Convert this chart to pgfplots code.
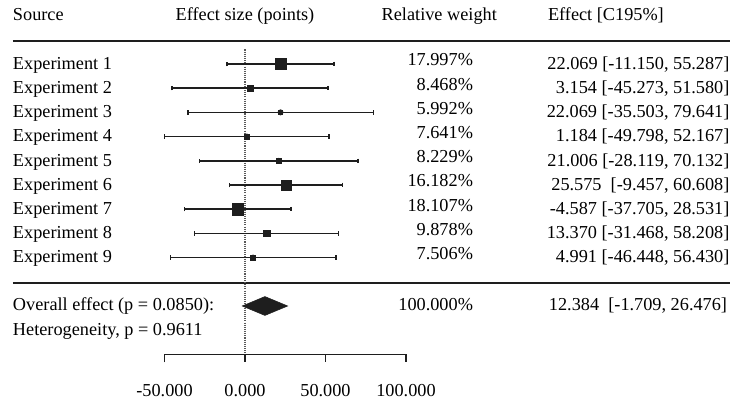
\documentclass[border=0pt]{standalone}
\usepackage{pgfplots}
\pgfplotsset{compat=1.18}
\usepackage{pgfplotstable}
\usepackage{fontspec}
\setmainfont{Liberation Serif}
\definecolor{ink}{HTML}{1E1E1E}
\pgfplotstableread{
row est lo hi w
1 22.069 -11.150 55.287 17.997
2 3.154 -45.273 51.580 8.468
3 22.069 -35.503 79.641 5.992
4 1.184 -49.798 52.167 7.641
5 21.006 -28.119 70.132 8.229
6 25.575 -9.457 60.608 16.182
7 -4.587 -37.705 28.531 18.107
8 13.370 -31.468 58.208 9.878
9 4.991 -46.448 56.430 7.506
}\studies
\begin{document}
\fontsize{13.7}{16}\selectfont
\begin{tikzpicture}[every node/.style={inner sep=0pt, outer sep=0pt}]
\begin{axis}[
  name=ax,
  scale only axis, width=547.5pt, height=301.5pt,
  xmin=-152.17, xmax=301.24,
  ymin=-1.645, ymax=14.967, y dir=reverse,
  hide axis, clip=false,
]
% rules
\draw[line width=1.5pt, ink] (axis cs:-144.1,0.05) -- (axis cs:301.24,0.05);
\draw[line width=1.5pt, ink] (axis cs:-144.1,10.05) -- (axis cs:301.24,10.05);
% zero reference line
\addplot[black!65, line width=0.8pt, dash pattern=on 0.8pt off 0.8pt] coordinates {(0,0.4) (0,13)};
% error bars
\addplot[only marks, mark=none, ink,
  error bars/.cd, x dir=both, x explicit,
  error bar style={line width=1.3pt},
  error mark=|,
  error mark options={mark size=1.7pt, line width=1pt}]
  table[x=est, y=row,
    x error minus expr=\thisrow{est}-\thisrow{lo},
    x error plus expr=\thisrow{hi}-\thisrow{est}] {\studies};
% squares sized by weight
\addplot[only marks, mark=square*, scatter, point meta=\thisrow{w},
  scatter/use mapped color={draw=ink, fill=ink},
  visualization depends on={\thisrow{w} \as \wt},
  scatter/@pre marker code/.append style={/tikz/mark size=0.2175*\wt+0.34}]
  table[x=est, y=row] {\studies};
% overall diamond
\addplot[fill=ink, draw=ink] coordinates {(-1.709,11) (12.384,10.61) (26.476,11) (12.384,11.39)} -- cycle;
% scale axis
\addplot[ink, line width=1.2pt] coordinates {(-50,13.33) (-50,13) (100,13) (100,13.33)};
\addplot[ink, line width=1.2pt] coordinates {(0,13) (0,13.33)};
\addplot[ink, line width=1.2pt] coordinates {(50,13) (50,13.33)};
\node[anchor=base] at (axis cs:-50,14.76) {-50.000};
\node[anchor=base] at (axis cs:0,14.76) {0.000};
\node[anchor=base] at (axis cs:50,14.76) {50.000};
\node[anchor=base] at (axis cs:100,14.76) {100.000};
% header
\node[anchor=base west] at (axis cs:-144.1,-0.81) {Source};
\node[anchor=base] at (axis cs:0,-0.81) {Effect size (points)};
\node[anchor=base west] at (axis cs:84.9,-0.81) {Relative weight};
\node[anchor=base west] at (axis cs:188.2,-0.81) {Effect [C195\%]};
% study labels
\node[anchor=base west] at (axis cs:-144.1,1.22) {Experiment 1};
\node[anchor=base west] at (axis cs:-144.1,2.22) {Experiment 2};
\node[anchor=base west] at (axis cs:-144.1,3.22) {Experiment 3};
\node[anchor=base west] at (axis cs:-144.1,4.22) {Experiment 4};
\node[anchor=base west] at (axis cs:-144.1,5.22) {Experiment 5};
\node[anchor=base west] at (axis cs:-144.1,6.22) {Experiment 6};
\node[anchor=base west] at (axis cs:-144.1,7.22) {Experiment 7};
\node[anchor=base west] at (axis cs:-144.1,8.22) {Experiment 8};
\node[anchor=base west] at (axis cs:-144.1,9.22) {Experiment 9};
% weights
\node[anchor=base east] at (axis cs:141.6,1.08) {17.997\%};
\node[anchor=base east] at (axis cs:141.6,2.08) {8.468\%};
\node[anchor=base east] at (axis cs:141.6,3.08) {5.992\%};
\node[anchor=base east] at (axis cs:141.6,4.08) {7.641\%};
\node[anchor=base east] at (axis cs:141.6,5.08) {8.229\%};
\node[anchor=base east] at (axis cs:141.6,6.08) {16.182\%};
\node[anchor=base east] at (axis cs:141.6,7.08) {18.107\%};
\node[anchor=base east] at (axis cs:141.6,8.08) {9.878\%};
\node[anchor=base east] at (axis cs:141.6,9.08) {7.506\%};
% effects
\node[anchor=base east] at (axis cs:300.9,1.22) {22.069 [-11.150, 55.287]};
\node[anchor=base east] at (axis cs:300.9,2.22) {3.154 [-45.273, 51.580]};
\node[anchor=base east] at (axis cs:300.9,3.22) {22.069 [-35.503, 79.641]};
\node[anchor=base east] at (axis cs:300.9,4.22) {1.184 [-49.798, 52.167]};
\node[anchor=base east] at (axis cs:300.9,5.22) {21.006 [-28.119, 70.132]};
\node[anchor=base east] at (axis cs:300.9,6.22) {25.575\ \ [-9.457, 60.608]};
\node[anchor=base east] at (axis cs:300.9,7.22) {-4.587 [-37.705, 28.531]};
\node[anchor=base east] at (axis cs:300.9,8.22) {13.370 [-31.468, 58.208]};
\node[anchor=base east] at (axis cs:300.9,9.22) {4.991 [-46.448, 56.430]};
% overall
\node[anchor=base west] at (axis cs:-144.1,11.2) {Overall effect (p = 0.0850):};
\node[anchor=base west] at (axis cs:-144.1,12.2) {Heterogeneity, p = 0.9611};
\node[anchor=base east] at (axis cs:141.6,11.2) {100.000\%};
\node[anchor=base west] at (axis cs:188.8,11.2) {12.384\ \ [-1.709, 26.476]};
\end{axis}
\pgfresetboundingbox
\path (ax.south west) rectangle (ax.north east);
\end{tikzpicture}
\end{document}
